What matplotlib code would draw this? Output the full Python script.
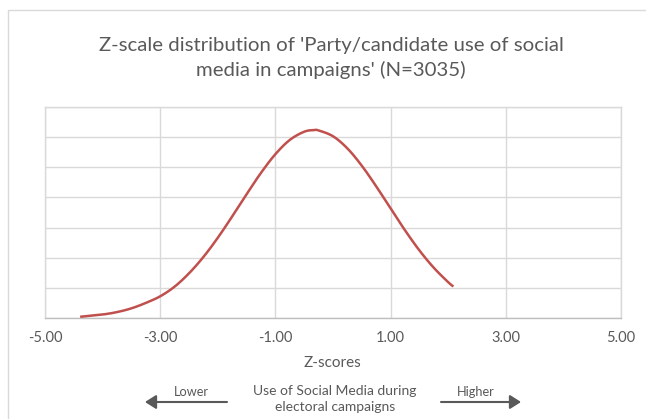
import numpy as np
import matplotlib
matplotlib.use("Agg")
import matplotlib.pyplot as plt
from matplotlib.patches import Rectangle, FancyArrowPatch

# ---- data ----
z_scores = [-4.39, -4.0, -3.75, -3.5, -3.25, -3.0, -2.75, -2.5, -2.25, -2.0,
            -1.75, -1.5, -1.25, -1.0, -0.75, -0.5, -0.33, -0.25, 0.0, 0.25,
            0.5, 0.75, 1.0, 1.25, 1.5, 1.75, 2.0, 2.09]
density = [0.002, 0.0058, 0.0098, 0.016, 0.025, 0.036, 0.052, 0.0741, 0.1012, 0.1331,
           0.1685, 0.2053, 0.2408, 0.2718, 0.2954, 0.3090, 0.3117, 0.3111, 0.3015, 0.2813,
           0.2526, 0.2184, 0.1817, 0.1455, 0.1121, 0.0833, 0.0594, 0.0522]
x_ticks = [-5, -3, -1, 1, 3, 5]
x_tick_labels = ["-5.00", "-3.00", "-1.00", "1.00", "3.00", "5.00"]
y_grid = [0, 0.05, 0.10, 0.15, 0.20, 0.25, 0.30, 0.35]

title = "Z-scale distribution of 'Party/candidate use of social\nmedia in campaigns' (N=3035)"
x_title = "Z-scores"
note = "Use of Social Media during\nelectoral campaigns"

FONT = ["Lato", "DejaVu Sans"]
TXT = "#595959"
GRID = "#d9d9d9"


def catmull_rom(xs, ys, n=20):
    xs = np.asarray(xs, float); ys = np.asarray(ys, float)
    px = np.concatenate([[2 * xs[0] - xs[1]], xs, [2 * xs[-1] - xs[-2]]])
    py = np.concatenate([[2 * ys[0] - ys[1]], ys, [2 * ys[-1] - ys[-2]]])
    ox, oy = [], []
    for i in range(1, len(px) - 2):
        t = np.linspace(0, 1, n, endpoint=False)
        for P, out in ((px, ox), (py, oy)):
            p0, p1, p2, p3 = P[i - 1], P[i], P[i + 1], P[i + 2]
            out.extend(0.5 * ((2 * p1) + (-p0 + p2) * t + (2 * p0 - 5 * p1 + 4 * p2 - p3) * t ** 2
                              + (-p0 + 3 * p1 - 3 * p2 + p3) * t ** 3))
    ox.append(xs[-1]); oy.append(ys[-1])
    return np.array(ox), np.array(oy)


W, H = 646, 419
fig = plt.figure(figsize=(W / 100, H / 100), dpi=100)
fig.patch.set_facecolor("white")

# outer chart border (cropped on right and bottom)
fig.patches.append(Rectangle((8 / W, -0.1), 1.2, (H - 10) / H + 0.1,
                             transform=fig.transFigure, fill=False,
                             edgecolor=GRID, linewidth=1.0))

ax = fig.add_axes([45 / W, (H - 318) / H, 576 / W, 211 / H])
sx, sy = catmull_rom(z_scores, density)
ax.plot(sx, sy, color="#C0504D", linewidth=1.8, solid_capstyle="butt", zorder=3)

ax.set_xlim(-5, 5)
ax.set_ylim(0, 0.35)
ax.set_xticks(x_ticks)
ax.set_xticklabels(x_tick_labels, fontfamily=FONT, fontsize=10.5, color=TXT)
ax.set_yticks(y_grid)
ax.set_yticklabels([])
ax.tick_params(axis="both", length=0, pad=9)
ax.grid(True, color=GRID, linewidth=1.0, zorder=0)
ax.set_axisbelow(True)
for s in ("left", "right", "top"):
    ax.spines[s].set_color(GRID)
    ax.spines[s].set_linewidth(1.0)
ax.spines["bottom"].set_color("#bfbfbf")
ax.spines["bottom"].set_linewidth(1.0)

fig.text(331 / W, 1 - 58 / H, title, ha="center", va="center",
         fontfamily=FONT, fontsize=14.7, color=TXT, linespacing=1.45)
fig.text(332 / W, 1 - 363 / H, x_title, ha="center", va="center",
         fontfamily=FONT, fontsize=11, color=TXT)
fig.text(335 / W, 1 - 399 / H, note, ha="center", va="center",
         fontfamily=FONT, fontsize=10.0, color=TXT, linespacing=1.35)
fig.text(191 / W, 1 - 392 / H, "Lower", ha="center", va="center",
         fontfamily=FONT, fontsize=9.2, color=TXT)
fig.text(476 / W, 1 - 392 / H, "Higher", ha="center", va="center",
         fontfamily=FONT, fontsize=9.2, color=TXT)

arrow_kw = dict(arrowstyle="-|>,head_length=0.55,head_width=0.35", mutation_scale=12,
                color="#595959", linewidth=1.5, shrinkA=0, shrinkB=0)
fig.add_artist(FancyArrowPatch((227 / W, 1 - 402 / H), (145 / W, 1 - 402 / H),
                               transform=fig.transFigure, **arrow_kw))
fig.add_artist(FancyArrowPatch((441 / W, 1 - 402 / H), (521 / W, 1 - 402 / H),
                               transform=fig.transFigure, **arrow_kw))

fig.savefig("out.png", dpi=100, facecolor="white")
